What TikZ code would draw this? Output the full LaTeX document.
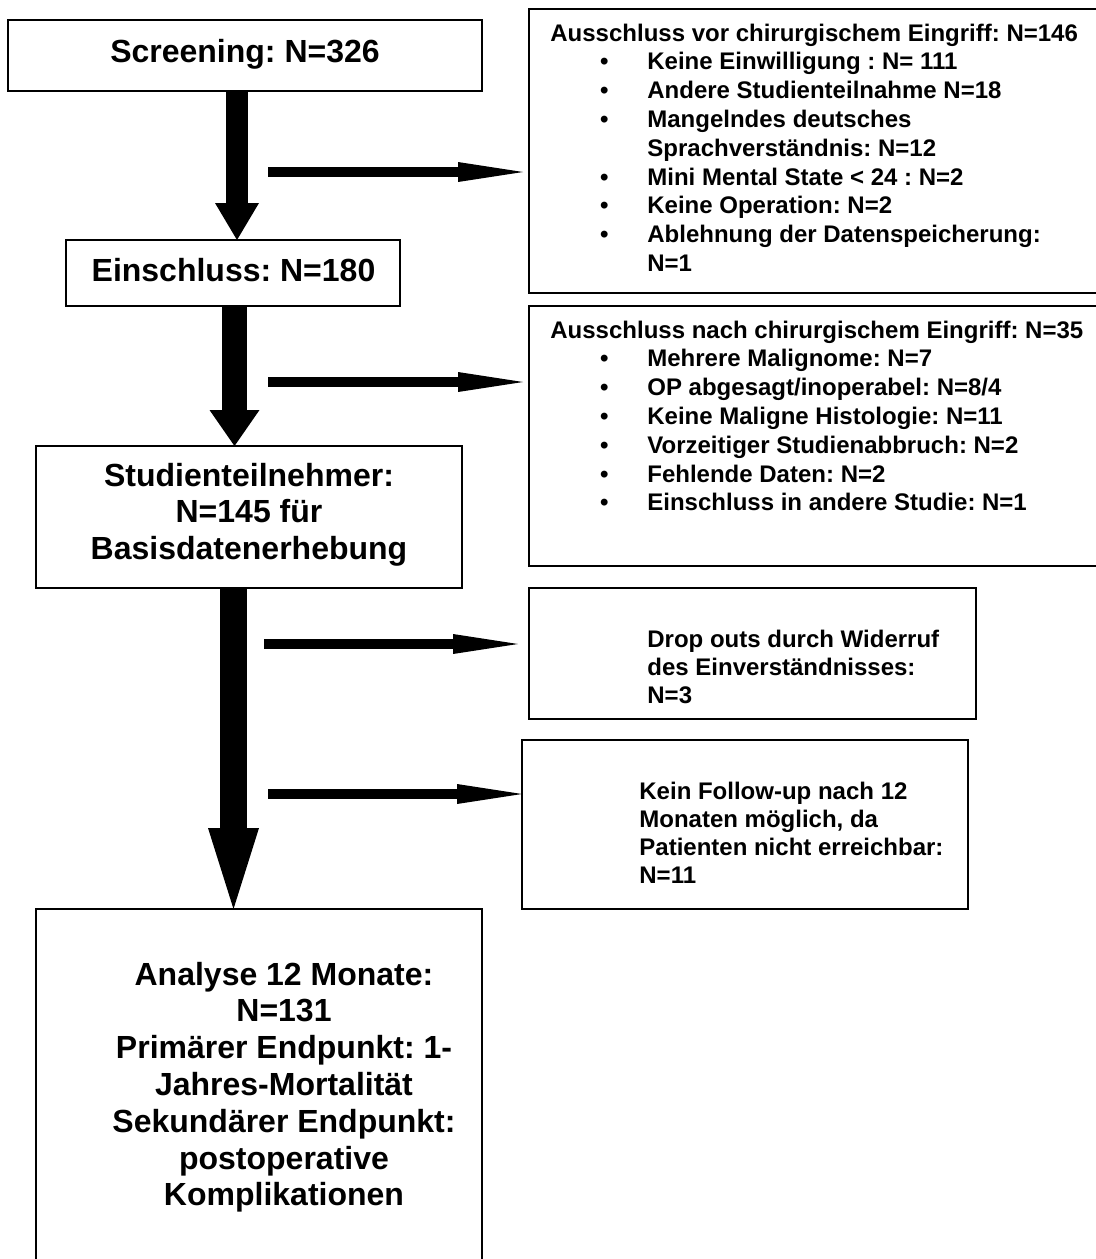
\documentclass[tikz,border=0pt]{standalone}
\usepackage{fontspec}
\setmainfont{Liberation Sans}
\usetikzlibrary{arrows.meta}
\newcommand\itembul{\hspace*{24.9pt}\makebox[23.6pt][l]{•}}
\newcommand\contind{\hspace*{48.5pt}}
\begin{document}
\frenchspacing
\begin{tikzpicture}[x=0.5pt,y=-0.5pt,
  box/.style={draw=black, line width=1pt, inner sep=0pt, outer sep=0pt, anchor=north west},
  bigtext/.style={font=\frenchspacing\bfseries\fontsize{16}{18.4}\selectfont, inner sep=0pt, anchor=base},
  smalltext/.style={font=\frenchspacing\bfseries\fontsize{12}{14.4}\selectfont, inner sep=0pt, anchor=base west},
  smalltextb/.style={font=\frenchspacing\bfseries\fontsize{12}{14}\selectfont, inner sep=0pt, anchor=base west},
  harrow/.style={line width=5pt, -{Triangle[length=32.5pt,width=10pt,line width=0pt]}}
]
\useasboundingbox (0,0) rectangle (1096,1259);
\fill[white] (0,0) rectangle (1096,1259);
\clip (0,0) rectangle (1096,1259);

% main column boxes
\node[box, minimum width=237pt, minimum height=35.5pt] (S) at (8,20) {};
\node[box, minimum width=167pt, minimum height=33pt] (E) at (66,240) {};
\node[box, minimum width=213pt, minimum height=71pt] (T) at (36,446) {};
\node[box, minimum width=223pt, minimum height=182pt] (An) at (36,909) {};

% side boxes
\node[box, minimum width=286pt, minimum height=142pt] (A) at (529,9) {};
\node[box, minimum width=286pt, minimum height=130pt] (B) at (529,306) {};
\node[box, minimum width=223.5pt, minimum height=65.5pt] (C) at (529,588) {};
\node[box, minimum width=223pt, minimum height=84.5pt] (D) at (522,740) {};

% texts
\node[bigtext] (St) at (245,62) {Screening: N=326};
\node[bigtext] (Et) at (233.5,281) {Einschluss: N=180};
\node[bigtext] (Tt) at (249,486) {\begin{tabular}[t]{@{}c@{}}Studienteilnehmer:\\ N=145 für\\ Basisdatenerhebung\end{tabular}};
\node[bigtext] (Ant) at (284,985) {\begin{tabular}[t]{@{}c@{}}Analyse 12 Monate:\\ N=131\\ Primärer Endpunkt: 1-\\ Jahres-Mortalität\\ Sekundärer Endpunkt:\\ postoperative\\ Komplikationen\end{tabular}};

\node[smalltext] (At) at (550,41) {\begin{tabular}[t]{@{}l@{}}Ausschluss vor chirurgischem Eingriff: N=146\\
\itembul Keine Einwilligung : N= 111\\
\itembul Andere Studienteilnahme N=18\\
\itembul Mangelndes deutsches\\
\contind Sprachverständnis: N=12\\
\itembul Mini Mental State < 24 : N=2\\
\itembul Keine Operation: N=2\\
\itembul Ablehnung der Datenspeicherung:\\
\contind N=1\end{tabular}};

\node[smalltext] (Bt) at (550,338) {\begin{tabular}[t]{@{}l@{}}Ausschluss nach chirurgischem Eingriff: N=35\\
\itembul Mehrere Malignome: N=7\\
\itembul OP abgesagt/inoperabel: N=8/4\\
\itembul Keine Maligne Histologie: N=11\\
\itembul Vorzeitiger Studienabbruch: N=2\\
\itembul Fehlende Daten: N=2\\
\itembul Einschluss in andere Studie: N=1\end{tabular}};

\node[smalltextb] (Ct) at (647,647) {\begin{tabular}[t]{@{}l@{}}Drop outs durch Widerruf\\ des Einverständnisses:\\ N=3\end{tabular}};
\node[smalltextb] (Dt) at (639,799) {\begin{tabular}[t]{@{}l@{}}Kein Follow-up nach 12\\ Monaten möglich, da\\ Patienten nicht erreichbar:\\ N=11\end{tabular}};

% vertical block arrows
\coordinate (v1) at (237,0);
\coordinate (v2) at (234.5,0);
\coordinate (v3) at (233.5,0);
\draw[line width=11pt, -{Triangle[length=18.5pt,width=22pt,line width=0pt]}] (S.south -| v1) -- (E.north -| v1);
\draw[line width=12.5pt, -{Triangle[length=18pt,width=25pt,line width=0pt]}] (E.south -| v2) -- (T.north -| v2);
\draw[line width=13.5pt, -{Triangle[length=40.5pt,width=25.5pt,line width=0pt]}] (T.south -| v3) -- (An.north -| v3);

% horizontal arrows
\coordinate (h1) at (268,172);
\coordinate (h2) at (268,382);
\coordinate (h3) at (264,644);
\coordinate (h4) at (268,794);
\draw[harrow, shorten >=3pt] (h1) -- (h1 -| A.west);
\draw[harrow, shorten >=3pt] (h2) -- (h2 -| B.west);
\draw[harrow, shorten >=5.5pt] (h3) -- (h3 -| C.west);
\draw[harrow] (h4) -- (h4 -| D.west);
\end{tikzpicture}
\end{document}
